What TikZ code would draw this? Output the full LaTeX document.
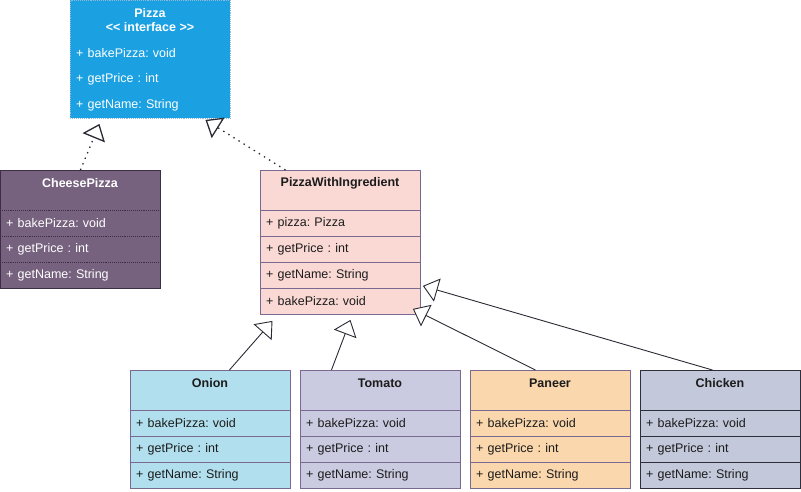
\documentclass[tikz,border=0pt]{standalone}
\usepackage{fontspec}
\setmainfont{Liberation Sans}
\usetikzlibrary{arrows.meta}
\definecolor{pzblue}{HTML}{1BA1E2}
\definecolor{pzbord}{HTML}{8FB8D8}
\definecolor{cpfill}{HTML}{76627E}
\definecolor{cpbord}{HTML}{3A2F45}
\definecolor{pwifill}{HTML}{FAD9D5}
\definecolor{onfill}{HTML}{B1DFEE}
\definecolor{tofill}{HTML}{CACAE0}
\definecolor{pafill}{HTML}{FAD7AC}
\definecolor{chfill}{HTML}{C3C8DA}
\definecolor{chbord}{HTML}{2E2E3C}
\definecolor{pbord}{HTML}{7A6A92}
\definecolor{txt}{HTML}{1C1C1C}
\definecolor{ln}{HTML}{2A2A35}
\frenchspacing
\begin{document}
\begin{tikzpicture}[x=1pt,y=-1pt,
  font=\fontsize{12.5}{14}\selectfont,
  box/.style={draw=pbord, line width=0.9pt, inner sep=0pt, minimum width=160pt, anchor=north west},
  ttl/.style={font=\fontsize{12.5}{14}\selectfont\bfseries, inner sep=0pt, text=txt},
  row/.style={inner xsep=6pt, inner ysep=0pt, minimum height=26pt, text width=148pt, align=left, anchor=north west, text=txt, font=\fontsize{12.5}{14}\selectfont\frenchspacing},
  sep/.style={draw=pbord, line width=0.9pt},
  tip/.style={-{Triangle[open,length=15pt,width=24pt,fill=white]}},
  dotline/.style={tip, draw=ln, line width=1.3pt, dash pattern=on 1.4pt off 4.6pt},
  solline/.style={tip, draw=ln, line width=0.9pt}
]
\useasboundingbox (0,0) rectangle (801,492);

% Pizza interface
\node[box, fill=pzblue, draw=pzbord, densely dotted, minimum height=118pt] (pizza) at (70,0) {};
\node[ttl, text=white] (pizzaT) at (150,13) {Pizza};
\node[ttl, text=white] (pizzaS) at (150,27) {<\kern0pt< interface >\kern0pt>};
\node[row, text=white] (pizza1) at (70,40) {+ bakePizza: void};
\node[row, text=white] (pizza2) at (70,66) {+ getPrice : int};
\node[row, text=white] (pizza3) at (70,92) {+ getName: String};

% CheesePizza
\node[box, fill=cpfill, draw=cpbord, minimum height=118pt] (cp) at (0,170) {};
\node[ttl, text=white] (cpT) at (80,183) {CheesePizza};
\node[row, text=white] (cp1) at (0,210) {+ bakePizza: void};
\node[row, text=white] (cp2) at (0,236) {+ getPrice : int};
\node[row, text=white] (cp3) at (0,262) {+ getName: String};
\foreach \r in {cp1,cp2,cp3} \draw[draw=cpbord, line width=0.9pt, densely dotted] (\r.north west) -- (\r.north east);

% PizzaWithIngredient
\node[box, fill=pwifill, minimum height=144pt] (pwi) at (260,170) {};
\node[ttl] (pwiT) at (340,183) {PizzaWithIngredient};
\node[row] (pwi1) at (260,210) {+ pizza: Pizza};
\node[row] (pwi2) at (260,236) {+ getPrice : int};
\node[row] (pwi3) at (260,262) {+ getName: String};
\node[row] (pwi4) at (260,288) {+ bakePizza: void};
\foreach \r in {pwi1,pwi2,pwi3,pwi4} \draw[sep] (\r.north west) -- (\r.north east);

% Onion
\node[box, fill=onfill, minimum height=118pt] (onion) at (130,370) {};
\node[ttl] (onionT) at (210,383) {Onion};
\node[row] (onion1) at (130,410) {+ bakePizza: void};
\node[row] (onion2) at (130,436) {+ getPrice : int};
\node[row] (onion3) at (130,462) {+ getName: String};
\foreach \r in {onion1,onion2,onion3} \draw[sep] (\r.north west) -- (\r.north east);

% Tomato
\node[box, fill=tofill, minimum height=118pt] (tomato) at (300,370) {};
\node[ttl] (tomatoT) at (380,383) {Tomato};
\node[row] (tomato1) at (300,410) {+ bakePizza: void};
\node[row] (tomato2) at (300,436) {+ getPrice : int};
\node[row] (tomato3) at (300,462) {+ getName: String};
\foreach \r in {tomato1,tomato2,tomato3} \draw[sep] (\r.north west) -- (\r.north east);

% Paneer
\node[box, fill=pafill, minimum height=118pt] (paneer) at (470,370) {};
\node[ttl] (paneerT) at (550,383) {Paneer};
\node[row] (paneer1) at (470,410) {+ bakePizza: void};
\node[row] (paneer2) at (470,436) {+ getPrice : int};
\node[row] (paneer3) at (470,462) {+ getName: String};
\foreach \r in {paneer1,paneer2,paneer3} \draw[sep] (\r.north west) -- (\r.north east);

% Chicken
\node[box, fill=chfill, draw=chbord, minimum height=118pt] (chicken) at (640,370) {};
\node[ttl] (chickenT) at (720,383) {Chicken};
\node[row] (chicken1) at (640,410) {+ bakePizza: void};
\node[row] (chicken2) at (640,436) {+ getPrice : int};
\node[row] (chicken3) at (640,462) {+ getName: String};
\foreach \r in {chicken1,chicken2,chicken3} \draw[draw=chbord, line width=0.9pt] (\r.north west) -- (\r.north east);

% realization (dotted)
\draw[dotline] (cp.north) -- ([xshift=-51pt,yshift=-5pt]pizza.south);
\draw[dotline] ([xshift=-55pt]pwi.north) -- ([xshift=55pt,yshift=-1pt]pizza.south);

% generalization (solid)
\draw[solline] ([xshift=19pt]onion.north) -- ([xshift=-68pt,yshift=-6pt]pwi.south);
\draw[solline] ([xshift=-49pt]tomato.north) -- ([xshift=10pt,yshift=-5pt]pwi.south);
\draw[solline] ([xshift=-15pt]paneer.north) -- ([xshift=-8pt,yshift=6pt]pwi.south east);
\draw[solline] ([xshift=-8pt]chicken.north) -- ([xshift=2pt,yshift=29pt]pwi.south east);
\end{tikzpicture}
\end{document}
